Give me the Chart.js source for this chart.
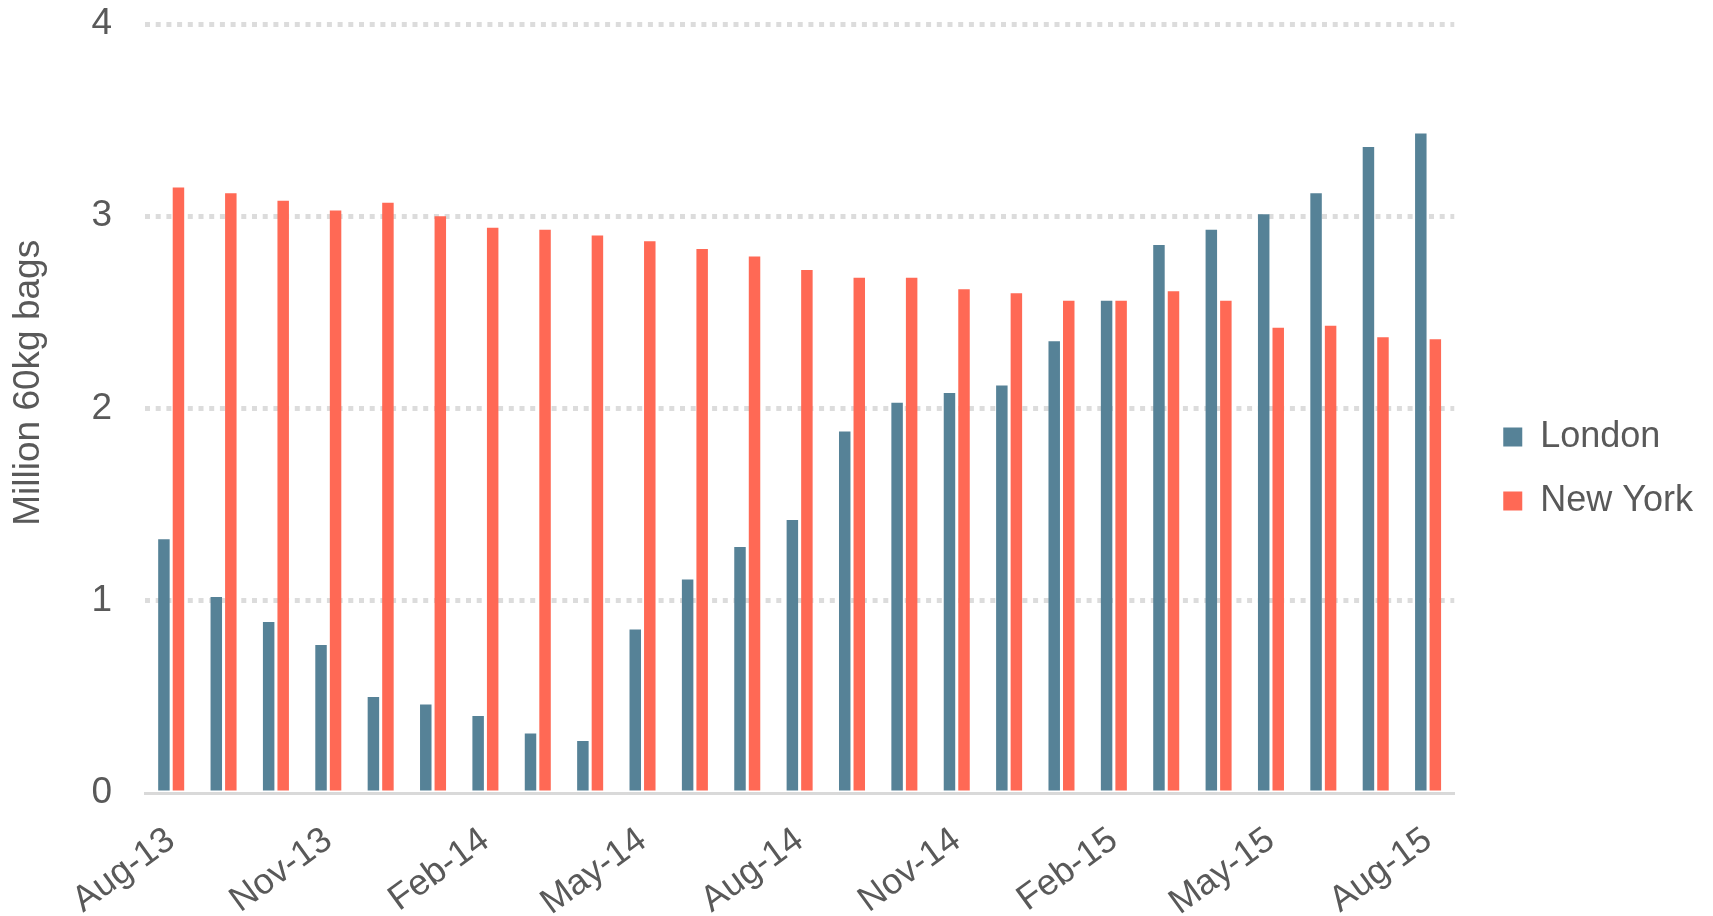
<!DOCTYPE html>
<html>
<head>
<meta charset="utf-8">
<script src="https://cdn.jsdelivr.net/npm/chart.js@4.4.1/dist/chart.umd.min.js"></script>
<style>
  html, body { margin: 0; padding: 0; background: #ffffff; }
  #wrap { width: 1713px; height: 916px; }
</style>
</head>
<body>
<div id="wrap"><canvas id="c" width="1713" height="916"></canvas></div>
<script>
const categories = ['Aug-13','Sep-13','Oct-13','Nov-13','Dec-13','Jan-14','Feb-14','Mar-14','Apr-14','May-14','Jun-14','Jul-14','Aug-14','Sep-14','Oct-14','Nov-14','Dec-14','Jan-15','Feb-15','Mar-15','Apr-15','May-15','Jun-15','Jul-15','Aug-15'];
const london  = [1.32,1.02,0.89,0.77,0.50,0.46,0.40,0.31,0.27,0.85,1.11,1.28,1.42,1.88,2.03,2.08,2.12,2.35,2.56,2.85,2.93,3.01,3.12,3.36,3.43];
const newYork = [3.15,3.12,3.08,3.03,3.07,3.00,2.94,2.93,2.90,2.87,2.83,2.79,2.72,2.68,2.68,2.62,2.60,2.56,2.56,2.61,2.56,2.42,2.43,2.37,2.36];
const shownXTicks = ['Aug-13','Nov-13','Feb-14','May-14','Aug-14','Nov-14','Feb-15','May-15','Aug-15'];
const yTickValues = [0,1,2,3,4];
const seriesNames = ['London','New York'];
const yTitle = 'Million 60kg bags';

const FONT = "'Liberation Sans', Arial, sans-serif";
const TEXT = '#595959';

new Chart(document.getElementById('c'), {
  type: 'bar',
  data: {
    labels: categories,
    datasets: [
      { label: seriesNames[0], data: london, backgroundColor: '#568297', borderWidth: 0,
        categoryPercentage: 0.555, barPercentage: 0.79 },
      { label: seriesNames[1], data: newYork, backgroundColor: '#FF6955', borderWidth: 0,
        categoryPercentage: 0.555, barPercentage: 0.79 }
    ]
  },
  options: {
    responsive: false,
    animation: false,
    devicePixelRatio: 1,
    layout: { padding: { top: 24, left: 3, right: 10, bottom: 2 } },
    plugins: {
      tooltip: { enabled: false },
      legend: {
        position: 'right',
        align: 'center',
        labels: {
          boxWidth: 19, boxHeight: 19, padding: 28,
          color: TEXT,
          font: { family: FONT, size: 36 }
        }
      }
    },
    scales: {
      x: {
        grid: { display: false, drawTicks: false },
        border: { display: true, color: '#d9d9d9', width: 3 },
        ticks: {
          autoSkip: false,
          minRotation: 36, maxRotation: 36,
          padding: 26,
          color: TEXT,
          font: { family: FONT, size: 36 },
          callback: function(v, i) {
            const lab = categories[i];
            return shownXTicks.includes(lab) ? lab : '';
          }
        },
        afterFit: function(s) { s.height = 121; }
      },
      y: {
        min: 0, max: 4,
        afterBuildTicks: function(s) { s.ticks = yTickValues.map(v => ({ value: v })); },
        border: { display: false, dash: [5, 5.7] },
        grid: {
          drawTicks: true,
          tickLength: 33,
          tickColor: 'rgba(0,0,0,0)',
          lineWidth: 5,
          color: function(ctx) { return (ctx.tick && ctx.tick.value === 0) ? 'rgba(0,0,0,0)' : '#dcdcdc'; }
        },
        ticks: {
          padding: 0,
          color: TEXT,
          font: { family: FONT, size: 37 }
        },
        title: {
          display: true,
          text: '     ' + yTitle,
          color: TEXT,
          font: { family: FONT, size: 37 },
          padding: { top: 4, bottom: 4 }
        },
        afterFit: function(s) { s.width = 142; }
      },
      yR: {
        position: 'right',
        display: true,
        grid: { display: false },
        border: { display: false },
        ticks: { display: false },
        afterFit: function(s) { s.width = 21; }
      }
    }
  }
});
</script>
</body>
</html>
